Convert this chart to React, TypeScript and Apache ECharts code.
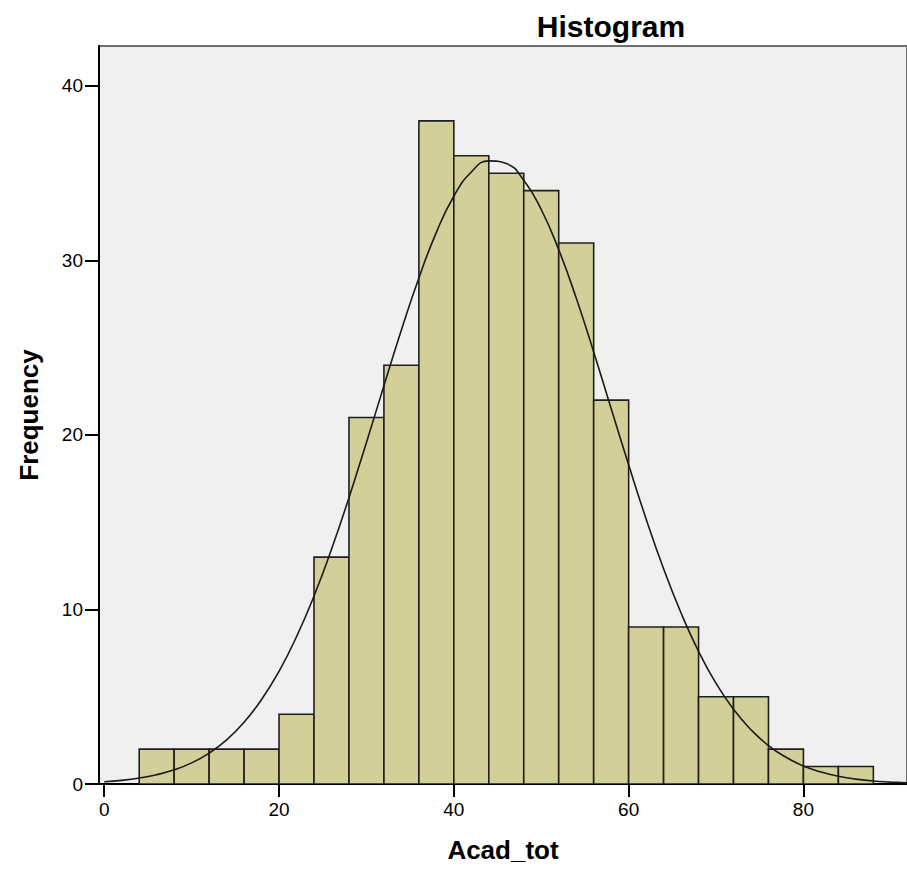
import React, { useEffect, useRef } from "react";
import * as echarts from "echarts";

// Histogram bins (edges) and frequencies
const binEdges = [4, 8, 12, 16, 20, 24, 28, 32, 36, 40, 44, 48, 52, 56, 60, 64, 68, 72, 76, 80, 84, 88];
const counts = [2, 2, 2, 2, 4, 13, 21, 24, 38, 36, 35, 34, 31, 22, 9, 9, 5, 5, 2, 1, 1];

// Fitted normal curve
const curveX = [0, 2, 4, 6, 8, 10, 12, 14, 16, 18, 20, 22, 24, 26, 28, 30, 32, 34, 36, 38, 40, 42, 44, 46,
  48, 50, 52, 54, 56, 58, 60, 62, 64, 66, 68, 70, 72, 74, 76, 78, 80, 82, 84, 86, 88, 90, 92];
const curveY = [0.13, 0.21, 0.34, 0.53, 0.81, 1.21, 1.77, 2.53, 3.54, 4.84, 6.46, 8.44, 10.77, 13.45, 16.41,
  19.57, 22.82, 26.02, 29.0, 31.61, 33.68, 35.07, 35.71, 35.55, 34.6, 32.92, 30.62, 27.85, 24.76, 21.52,
  18.29, 15.19, 12.34, 9.8, 7.6, 5.77, 4.28, 3.11, 2.2, 1.53, 1.03, 0.69, 0.44, 0.28, 0.17, 0.11, 0.06];

const xTicks = [0, 20, 40, 60, 80];
const yTicks = [0, 10, 20, 30, 40];

const FONT = "'Liberation Sans', Arial, sans-serif";

export default function App() {
  const ref = useRef<HTMLDivElement>(null);
  useEffect(() => {
    if (!ref.current) return;
    const chart = echarts.init(ref.current, null, { renderer: "svg" });
    const barData = counts.map((c, i) => [binEdges[i], binEdges[i + 1], c]);
    const lineData = curveX.map((x, i) => [x, curveY[i]]);
    chart.setOption({
      animation: false,
      backgroundColor: "#ffffff",
      title: {
        text: "Histogram",
        left: 606,
        textAlign: "center",
        top: 6,
        textStyle: { fontFamily: FONT, fontWeight: "bold", fontSize: 30, color: "#000" },
      },
      grid: {
        left: 99,
        right: -3,
        top: 46,
        bottom: 86,
        show: true,
        backgroundColor: "#F0F0F0",
        borderColor: "#6e6e6e",
        borderWidth: 2,
      },
      xAxis: {
        type: "value",
        min: -0.6,
        max: 91.85,
        name: "Acad_tot",
        nameLocation: "middle",
        nameGap: 53,
        nameTextStyle: { fontFamily: FONT, fontWeight: "bold", fontSize: 26, color: "#000" },
        axisLine: { show: true, onZero: false, lineStyle: { color: "#000", width: 2 } },
        axisTick: { show: true, length: 13, lineStyle: { color: "#000", width: 2 }, customValues: xTicks },
        axisLabel: { fontFamily: FONT, fontSize: 19, color: "#000", margin: 16, customValues: xTicks },
        splitLine: { show: false },
      },
      yAxis: {
        type: "value",
        min: 0,
        max: 42.29,
        name: "Frequency",
        nameLocation: "middle",
        nameGap: 57,
        nameTextStyle: { fontFamily: FONT, fontWeight: "bold", fontSize: 26, color: "#000" },
        axisLine: { show: true, onZero: false, lineStyle: { color: "#000", width: 2 } },
        axisTick: { show: true, length: 14, lineStyle: { color: "#000", width: 2 }, customValues: yTicks },
        axisLabel: { fontFamily: FONT, fontSize: 19, color: "#000", margin: 16, customValues: yTicks },
        splitLine: { show: false },
      },
      series: [
        {
          type: "custom",
          data: barData,
          encode: { x: [0, 1], y: 2 },
          clip: true,
          renderItem: (params: any, api: any) => {
            const x0 = api.value(0);
            const x1 = api.value(1);
            const c = api.value(2);
            const p0 = api.coord([x0, c]);
            const p1 = api.coord([x1, 0]);
            return {
              type: "rect",
              shape: { x: p0[0], y: p0[1], width: p1[0] - p0[0], height: p1[1] - p0[1] },
              style: { fill: "#D3CF98", stroke: "#1f1f1f", lineWidth: 1.6 },
            };
          },
          z: 2,
        },
        {
          type: "line",
          data: lineData,
          smooth: true,
          showSymbol: false,
          symbol: "none",
          clip: true,
          lineStyle: { color: "#1a1a1a", width: 1.6 },
          z: 3,
        },
      ],
    });
    return () => chart.dispose();
  }, []);
  return (
    <div
      ref={ref}
      style={{ position: "absolute", left: 0, top: 0, width: 907, height: 870 }}
    />
  );
}
